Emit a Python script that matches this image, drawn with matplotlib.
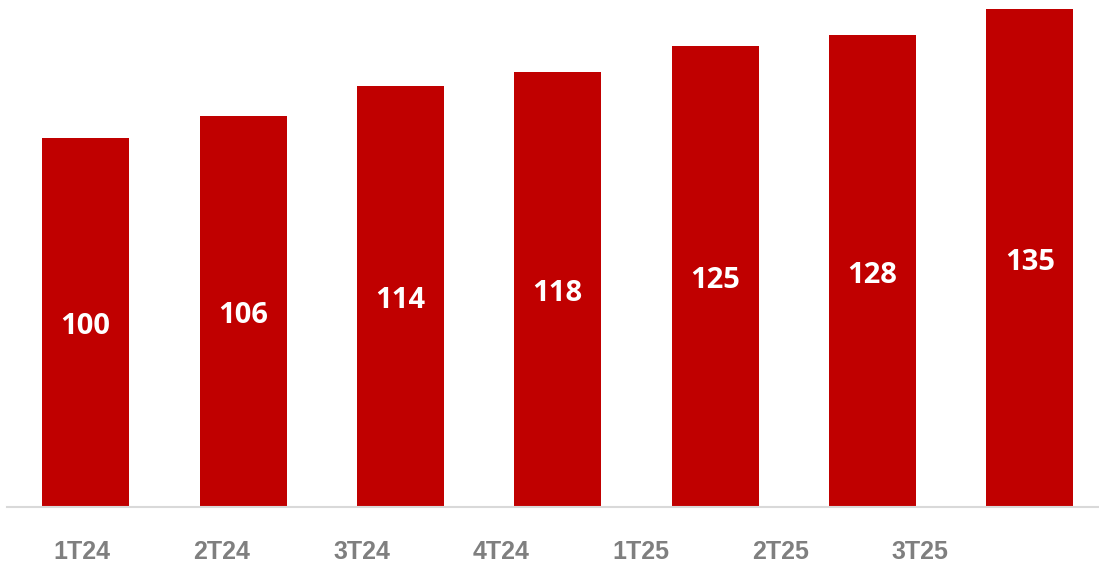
import numpy as np
import matplotlib.pyplot as plt

# data
trimestres = ['1T24', '2T24', '3T24', '4T24', '1T25', '2T25', '3T25']
valores = [100, 106, 114, 118, 125, 128, 135]

fig = plt.figure(figsize=(10.99, 5.64), dpi=100)
ax = fig.add_axes([7 / 1099, 57 / 564, 1092 / 1099, 507 / 564])

x = np.arange(len(trimestres))
barras = ax.bar(x, valores, width=0.553, color='#c00000', zorder=2)

for xi, v in zip(x, valores):
    ax.annotate(str(v), (xi, v / 2), xytext=(0, -3), textcoords='offset points',
                ha='center', va='center', color='white',
                fontsize=21, fontweight='bold', family='Open Sans')

ax.set_xlim(-0.5, 6.44)
ax.set_ylim(0, 137.4)

# the category labels sit on their own, tighter grid
pos_label = np.arange(len(trimestres)) * 0.8876 - 0.022
ax.set_xticks(pos_label)
ax.set_xticklabels(trimestres, fontsize=18, fontweight='bold',
                   color='#7f7f7f', family='Liberation Sans')
ax.tick_params(axis='x', length=0, pad=24)
ax.set_yticks([])

for s in ['top', 'right', 'left']:
    ax.spines[s].set_visible(False)
ax.spines['bottom'].set_color('#d9d9d9')
ax.spines['bottom'].set_linewidth(1.5)

fig.savefig('out.png', dpi=100)
